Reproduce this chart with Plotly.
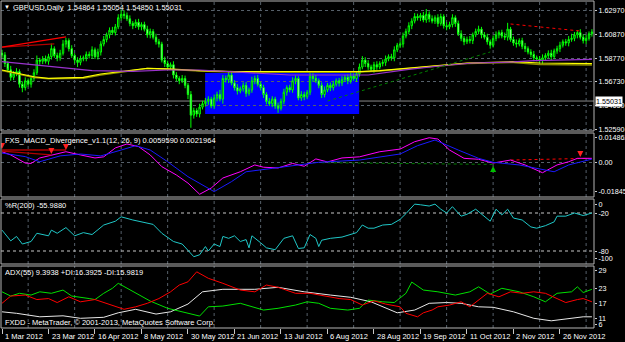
import plotly.graph_objects as go

# ---------------- DATA ----------------
closes = [
 1.5905,1.5830,1.5775,1.5710,1.5740,1.5760,1.5650,1.5620,1.5680,1.5650,
 1.5700,1.5750,1.5860,1.5850,1.5870,1.5850,1.5890,1.5960,1.5900,1.5880,
 1.5920,1.6000,1.6030,1.5960,1.5900,1.5860,1.5840,1.5870,1.5880,1.5910,
 1.5900,1.5950,1.5890,1.5930,1.6000,1.6040,1.6080,1.6120,1.6100,1.6150,
 1.6230,1.6260,1.6250,1.6220,1.6180,1.6160,1.6190,1.6150,1.6170,1.6130,
 1.6080,1.6110,1.6060,1.6020,1.6000,1.5860,1.5830,1.5800,1.5820,1.5730,
 1.5700,1.5680,1.5700,1.5640,1.5560,1.5380,1.5420,1.5390,1.5450,1.5480,
 1.5500,1.5520,1.5460,1.5530,1.5560,1.5520,1.5700,1.5690,1.5730,1.5660,
 1.5620,1.5590,1.5610,1.5640,1.5570,1.5600,1.5680,1.5700,1.5650,1.5620,
 1.5560,1.5500,1.5480,1.5520,1.5460,1.5440,1.5500,1.5580,1.5620,1.5600,
 1.5680,1.5700,1.5530,1.5560,1.5540,1.5580,1.5720,1.5700,1.5680,1.5640,
 1.5560,1.5600,1.5640,1.5620,1.5650,1.5680,1.5660,1.5690,1.5710,1.5680,
 1.5720,1.5700,1.5740,1.5800,1.5860,1.5830,1.5800,1.5780,1.5820,1.5800,
 1.5830,1.5840,1.5870,1.5890,1.5880,1.5950,1.5990,1.6000,1.6070,1.6110,
 1.6160,1.6200,1.6240,1.6230,1.6250,1.6210,1.6260,1.6220,1.6200,1.6230,
 1.6180,1.6240,1.6160,1.6150,1.6170,1.6230,1.6180,1.6090,1.6050,1.6020,
 1.6040,1.6030,1.6080,1.6110,1.6130,1.6080,1.6060,1.6020,1.5990,1.6050,
 1.6080,1.6100,1.6070,1.6060,1.6130,1.6040,1.6010,1.6000,1.6030,1.5980,
 1.5960,1.5930,1.5910,1.5880,1.5870,1.5860,1.5880,1.5900,1.5920,1.5890,
 1.5940,1.5960,1.5990,1.6020,1.6010,1.6040,1.6050,1.6080,1.6100,1.6060,
 1.6030,1.6050,1.6090,1.6105]
first_open = 1.5920
up_wick_pips = [
 30,25,20,35,25,30,20,25,30,20, 25,30,40,20,25,30,25,45,20,25,
 30,35,25,20,30,20,25,30,20,25, 25,30,20,30,25,30,20,25,30,25,
 30,40,35,25,30,20,25,30,20,25, 30,25,20,30,25,20,30,25,20,30,
 25,20,30,25,20,30,25,20,30,25, 30,25,20,30,25,40,30,25,30,20,
 25,30,20,25,30,20,35,25,30,20, 25,20,30,25,20,30,25,30,20,25,
 30,25,20,30,25,20,30,25,30,20, 25,30,20,25,30,20,25,30,20,25,
 30,25,20,30,35,25,30,20,25,30, 20,25,30,20,25,30,20,25,30,25,
 30,25,30,25,20,30,46,25,30,20, 30,25,20,30,25,30,20,25,30,20,
 25,30,20,25,30,20,25,30,20,25, 30,20,25,30,55,20,25,30,20,25,
 30,20,25,30,20,25,30,20,25,30, 20,25,30,20,25,30,40,25,20,30,
 25,30,20,25]
dn_wick_pips = [
 25,30,20,30,25,20,30,40,25,20, 30,25,20,30,25,20,30,25,20,30,
 25,20,30,25,20,30,40,25,20,30, 25,30,20,25,30,20,25,30,20,25,
 20,25,30,20,25,30,20,25,30,20, 25,30,20,25,30,20,30,25,20,30,
 25,30,20,25,40,110,30,25,30,20, 25,30,20,25,30,20,40,25,30,20,
 25,30,20,25,30,20,25,30,20,25, 30,25,20,30,25,40,20,25,30,20,
 25,30,20,25,30,20,25,30,20,25, 30,25,20,30,25,20,30,25,20,30,
 25,20,30,25,20,30,25,20,30,25, 20,25,30,20,25,30,20,25,30,20,
 25,30,20,25,30,20,25,30,20,25, 30,20,25,30,20,25,30,20,25,30,
 20,25,30,20,25,30,20,25,30,20, 25,30,20,25,30,20,25,30,20,25,
 30,20,25,30,20,25,30,20,25,30, 20,25,30,20,25,30,20,25,30,20,
 25,30,20,25]

date_ticks = [0, 16, 32, 48, 64, 80, 96, 112, 128, 144, 160, 176, 192]
date_labels = ["1 Mar 2012", "23 Mar 2012", "16 Apr 2012", "8 May 2012", "30 May 2012",
               "21 Jun 2012", "13 Jul 2012", "6 Aug 2012", "28 Aug 2012", "19 Sep 2012",
               "11 Oct 2012", "2 Nov 2012", "26 Nov 2012"]

price_ticks = [1.62970, 1.60870, 1.58770, 1.56730, 1.54650, 1.52590]
current_price = 1.55031

yellow_x = [0, 11, 16, 28, 34, 43, 50, 57, 68, 80, 102, 123, 130, 140, 151, 160, 176, 185, 203]
yellow_y = [1.5774, 1.5715, 1.5701, 1.5710, 1.5739, 1.5768, 1.5789, 1.5783, 1.5768, 1.5759,
            1.5759, 1.5759, 1.5768, 1.5791, 1.5817, 1.5835, 1.5846, 1.5835, 1.5829]
olive_y = [1.5770, 1.5708, 1.5697, 1.5702, 1.5730, 1.5763, 1.5786, 1.5780, 1.5764, 1.5756,
           1.5756, 1.5757, 1.5764, 1.5786, 1.5812, 1.5830, 1.5840, 1.5822, 1.5818]
purple_x = [0, 11, 22, 31, 45, 57, 68, 80, 91, 99, 126, 131, 140, 152, 162, 176, 183, 203]
purple_y = [1.5846, 1.5817, 1.5789, 1.5768, 1.5761, 1.5774, 1.5774, 1.5759, 1.5743, 1.5730,
            1.5730, 1.5748, 1.5780, 1.5813, 1.5835, 1.5844, 1.5855, 1.5867]

box_bars = [69.9, 122.9]
box_prices = [1.5390, 1.5748]

div_bright_x = [0, 22]; div_bright_y = [1.5974, 1.6062]
div_dark_x = [0, 18]; div_dark_y = [1.5974, 1.6001]
red_dot_x = [175, 199]; red_dot_y = [1.6175, 1.6114]
green_dot_x = [112, 168]; green_dot_y = [1.5503, 1.5931]

macd_x = [0,3,8,10,13,17,22,27,32,35,39,43,47,51,55,60,64,68,72,76,82,87,90,95,100,104,108,112,117,123,
          130,137,142,147,150,154,159,164,169,175,180,186,191,195,198,203]
macd_v = [0.0057,0.0040,-0.0003,-0.0005,0.0024,0.0040,0.0057,0.0040,0.0024,0.0030,
          0.0077,0.0098,0.0084,0.0040,-0.0022,-0.0066,-0.0109,-0.0168,-0.0135,-0.0082,
          -0.0049,-0.0013,-0.0025,-0.0029,-0.0005,-0.0020,0.0019,0.0003,0.0024,0.0030,
          0.0057,0.0071,0.0110,0.0131,0.0124,0.0066,0.0022,0.0017,-0.0003,0.0013,
          -0.0013,-0.0054,-0.0013,0.0004,0.0022,0.0022]
sig_x = [0,8,13,20,27,34,41,46,51,57,64,73,79,84,93,102,109,123,137,143,149,157,164,169,178,190,195,203]
sig_v = [0.0050,0.0031,0.0004,0.0035,0.0045,0.0035,0.0066,0.0089,0.0066,0.0004,
         -0.0075,-0.0154,-0.0101,-0.0049,-0.0031,-0.0013,0.0001,0.0013,0.0045,0.0089,
         0.0119,0.0066,0.0022,0.0001,-0.0013,-0.0049,-0.0013,0.0018]
macd_red_bright_x = [0, 22]; macd_red_bright_y = [0.0066, 0.0066]
macd_red_dark_x = [0, 17]; macd_red_dark_y = [0.0060, 0.0040]
macd_red_dot_x = [175, 202]; macd_red_dot_y = [0.0013, 0.0022]
macd_green_dot_x = [110, 169]; macd_green_dot_y = [-0.0001, -0.0010]
sell_arrow_x = [0, 17, 22, 199]; sell_arrow_y = [0.0072, 0.0045, 0.0066, 0.0029]
buy_arrow_x = [169]; buy_arrow_y = [-0.0018]

wpr_x = [0,3,5,7,10,12,16,17,19,22,25,28,31,33,35,39,41,45,48,52,55,59,62,66,68,70,71,73,75,76,
         78,80,82,84,85,86,89,91,94,97,100,102,104,106,108,109,110,113,117,120,122,124,126,128,131,134,
         137,139,142,144,147,149,151,153,155,158,160,163,165,168,170,172,174,176,179,182,184,187,190,191,
         194,197,200,203]
wpr_v = [-47,-64,-57,-69,-65,-52,-56,-47,-52,-43,-56,-51,-54,-47,-39,-33,-26,-31,-34,-38,
         -52,-65,-69,-89,-86,-73,-80,-69,-73,-57,-60,-56,-65,-62,-75,-56,-67,-75,-78,-60,
         -56,-76,-75,-54,-60,-73,-63,-60,-58,-54,-51,-39,-44,-44,-39,-38,-30,-21,-6,-7,
         -9,-6,-14,-20,-10,-25,-22,-14,-22,-33,-14,-23,-14,-28,-31,-42,-44,-40,-34,-25,
         -25,-20,-24,-20]
wpr_levels = [-20, -80]

adx_x = [0,5,13,21,27,35,40,46,53,58,64,69,76,87,95,104,113,120,127,136,142,147,153,158,164,169,176,183,189,194,200,203]
adx_v = [13.6,13,11.6,12,11,11.4,13.2,14.6,12.7,13.6,16.7,21.6,22.6,22.6,23.4,21.6,20.3,19.4,17.6,13.2,
         14.3,17,17.3,17,15.6,15.4,13.6,11,10,10.6,11.6,11.6]
pdi_x = [0,3,6,10,13,17,21,24,30,32,35,38,40,43,47,51,57,62,68,71,76,82,86,90,95,101,105,109,113,119,
         123,126,131,135,139,141,145,150,156,161,164,168,172,178,183,187,191,196,198,200,203]
pdi_v = [21.6,19.9,21,20.3,21.6,21,22.3,19.9,18.9,18.5,21,23,25,23,20.3,17.9,15,13.6,11.9,15.6,
         15.9,17,15.6,14.3,15,16.3,17.6,17,15,14.3,15,18.3,17.6,17.3,21,25.5,22.3,21.6,20.3,21.6,
         23.6,20.7,23,21.6,19.6,17.6,21,21.6,23.6,21.3,22.6]
mdi_x = [0,3,8,12,16,19,23,27,32,38,42,46,50,54,58,61,64,67,71,76,82,87,91,95,101,106,112,116,120,124,
         128,132,137,139,143,145,148,150,154,158,161,164,167,171,175,179,183,187,191,194,198,200,203]
mdi_v = [17,19.9,20.3,18.5,18.9,17.3,19.6,17.6,18.5,16.3,14.6,15.6,17,18.9,21.6,24.3,25.6,29.6,27,25,
         22.3,21.6,24.3,23.4,21,21,19.9,18.9,18.5,16.3,18,16.7,15.6,13,11.6,13.2,14.3,15.6,16.3,17.6,
         15.6,18.3,21,19.6,21.6,21,21.6,21,18.9,17.3,18.5,18.9,17.6]
adx_ticks = [30.1, 23, 17, 11, 8.7]
adx_tick_text = ["29", "23", "17", "11", "6"]

# ---------------- GEOMETRY ----------------
W, H = 625, 342
ML, MR, MT, MB = 1, 31, 1, 14
PW = W - ML - MR
PH = H - MT - MB

def px_x(px):
    return (px - ML) / PW

def px_y(py):
    return (H - MB - py) / PH

BAR0, BARW = 2.0, 2.906
x_range = [(ML - BAR0) / BARW, (W - MR - BAR0) / BARW]

main_dom = [px_y(131), px_y(1)]
macd_dom = [px_y(197), px_y(133)]
wpr_dom = [px_y(264), px_y(199)]
adx_dom = [0, px_y(266)]

main_range = [1.62970 - (131 - 10) * 0.000872, 1.62970 - (1 - 10) * 0.000872]
macd_range = [(162.5 - 197) * 0.000529, (162.5 - 133) * 0.000529]
wpr_range = [-20 - (264 - 213) * 1.579, -20 - (199 - 213) * 1.579]
adx_range = [23 - (328 - 288.3) / 2.5, 23 - (266 - 288.3) / 2.5]

FONT = "Liberation Sans"
FS = 7.5
AXFS = 7.2
GRID = "#56606a"

# ---------------- FIGURE ----------------
opens = [first_open] + closes[:-1]
highs = [max(o, c) + u * 0.0001 for o, c, u in zip(opens, closes, up_wick_pips)]
lows = [min(o, c) - d * 0.0001 for o, c, d in zip(opens, closes, dn_wick_pips)]
bars = list(range(len(closes)))

fig = go.Figure()

def line(x, y, color, axis, width=1, dash=None):
    fig.add_trace(go.Scatter(x=x, y=y, mode="lines", yaxis=axis, xaxis="x",
                             line=dict(color=color, width=width, dash=dash),
                             hoverinfo="skip", showlegend=False))

# main panel
line(yellow_x, olive_y, "#8c8c00", "y", 1.5)
line(yellow_x, yellow_y, "#ffff00", "y", 1.2)
line(purple_x, purple_y, "#9932cc", "y", 1.2)
fig.add_trace(go.Candlestick(
    x=bars, open=opens, high=highs, low=lows, close=closes, xaxis="x", yaxis="y",
    increasing=dict(line=dict(color="#00ff00", width=1), fillcolor="#000000"),
    decreasing=dict(line=dict(color="#00ff00", width=1), fillcolor="#ffffff"),
    whiskerwidth=0, hoverinfo="skip", showlegend=False))
line(div_dark_x, div_dark_y, "#b00000", "y", 1.2)
line(div_bright_x, div_bright_y, "#ff0000", "y", 1.2)
line(red_dot_x, red_dot_y, "#ff0000", "y", 1, "dot")
line(green_dot_x, green_dot_y, "#008000", "y", 1, "dot")

# MACD panel
line(macd_green_dot_x, macd_green_dot_y, "#008000", "y2", 1, "dot")
line(macd_red_dot_x, macd_red_dot_y, "#ff0000", "y2", 1, "dot")
line(macd_x, macd_v, "#ff00ff", "y2", 1)
line(sig_x, sig_v, "#1a1aff", "y2", 1)
line(macd_red_dark_x, macd_red_dark_y, "#b00000", "y2", 1.2)
line(macd_red_bright_x, macd_red_bright_y, "#ff0000", "y2", 1.2)
fig.add_trace(go.Scatter(x=sell_arrow_x, y=sell_arrow_y, mode="markers", yaxis="y2",
                         marker=dict(symbol="arrow-down", size=6, color="#ff2020"),
                         hoverinfo="skip", showlegend=False))
fig.add_trace(go.Scatter(x=buy_arrow_x, y=buy_arrow_y, mode="markers", yaxis="y2",
                         marker=dict(symbol="arrow-up", size=6, color="#00c000"),
                         hoverinfo="skip", showlegend=False))

# WPR panel
line(wpr_x, wpr_v, "#20c8c8", "y3", 1)

# ADX panel
line(adx_x, adx_v, "#e8e8e8", "y4", 1)
line(pdi_x, pdi_v, "#00e000", "y4", 1)
line(mdi_x, mdi_v, "#ff0000", "y4", 1)

shapes = []
shapes.append(dict(type="rect", xref="x", yref="y", x0=box_bars[0], x1=box_bars[1],
                   y0=box_prices[0], y1=box_prices[1], fillcolor="#0000ff",
                   line=dict(width=0), layer="below"))
shapes.append(dict(type="line", xref="paper", yref="y", x0=0, x1=1, y0=current_price,
                   y1=current_price, line=dict(color="#8a8a8a", width=1), layer="below"))
for t in date_ticks:
    for ax in ["y", "y2", "y3", "y4"]:
        shapes.append(dict(type="line", xref="x", yref=f"{ax} domain", x0=t + 9, x1=t + 9,
                           y0=0, y1=1, line=dict(color=GRID, width=1, dash="dot"), layer="below"))
for lv in wpr_levels:
    shapes.append(dict(type="line", xref="paper", yref="y3", x0=0, x1=1, y0=lv, y1=lv,
                       line=dict(color="#c8c8c8", width=1, dash="dot"), layer="below"))
shapes.append(dict(type="line", xref="paper", yref="y2", x0=0, x1=1, y0=0, y1=0,
                   line=dict(color=GRID, width=1, dash="dot"), layer="below"))
for dom in [main_dom, macd_dom, wpr_dom, adx_dom]:
    shapes.append(dict(type="rect", xref="paper", yref="paper", x0=0, x1=1, y0=dom[0], y1=dom[1],
                       line=dict(color="#b4b4b4", width=1), fillcolor="rgba(0,0,0,0)", layer="above"))

annotations = []
def label(px, py, text, size=FS, color="#ffffff"):
    annotations.append(dict(xref="paper", yref="paper", x=px_x(px), y=px_y(py), text=text,
                            showarrow=False, xanchor="left", yanchor="middle",
                            font=dict(family=FONT, size=size, color=color)))

label(2, 7, "▼", 6)
label(11, 7, "GBPUSD,Daily  1.54864 1.55054 1.54850 1.55031")
label(3, 140, "FXS_MACD_Divergence_v1.1(12, 26, 9) 0.0059590 0.0021964")
label(3, 206, "%R(200) -55.9880")
label(3, 272, "ADX(55) 9.3938 +DI:16.3925 -DI:15.9819")
label(3, 322, "FXDD - MetaTrader, © 2001-2013, MetaQuotes Software Corp.")

for t, s in zip(date_ticks, date_labels):
    annotations.append(dict(xref="x", yref="paper", x=t, y=0, text=s, showarrow=False,
                            xanchor="left", yanchor="top", xshift=1, yshift=-2,
                            font=dict(family=FONT, size=FS, color="#ffffff")))

annotations.append(dict(xref="paper", yref="y", x=1, y=current_price,
                        text=f"{current_price:.5f}", showarrow=False, xanchor="left",
                        yanchor="middle", xshift=1, bgcolor="#ffffff", borderpad=0,
                        font=dict(family=FONT, size=AXFS, color="#000000")))

def yax(dom, rng, tickvals, ticktext, grid=False):
    return dict(domain=dom, range=rng, side="right", anchor="x", tickvals=tickvals,
                ticktext=ticktext, showgrid=grid, gridcolor=GRID, griddash="dot", gridwidth=1,
                zeroline=False, showline=False, ticks="outside", ticklen=2, automargin=False,
                tickcolor="#c8c8c8", tickfont=dict(family=FONT, size=AXFS, color="#ffffff"),
                fixedrange=True)

fig.update_layout(
    width=W, height=H, margin=dict(l=ML, r=MR, t=MT, b=MB, autoexpand=False),
    paper_bgcolor="#000000", plot_bgcolor="#000000",
    showlegend=False,
    xaxis=dict(domain=[0, 1], range=x_range, anchor="y4", showgrid=False, zeroline=False,
               showline=False, tickvals=date_ticks, showticklabels=False, ticks="outside",
               ticklen=5, tickcolor="#c8c8c8", rangeslider=dict(visible=False), fixedrange=True,
               automargin=False),
    yaxis=yax(main_dom, main_range, price_ticks, [f"{p:.5f}" for p in price_ticks], True),
    yaxis2=yax(macd_dom, macd_range, [0.0133, 0.0, -0.0155], ["0.014862", "0.00", "-0.018451"]),
    yaxis3=yax(wpr_dom, wpr_range, [-6, -20, -80, -92], ["0", "-20", "-80", "-100"]),
    yaxis4=yax(adx_dom, adx_range, adx_ticks, adx_tick_text),
    shapes=shapes, annotations=annotations,
)

fig.write_html("out.html")
